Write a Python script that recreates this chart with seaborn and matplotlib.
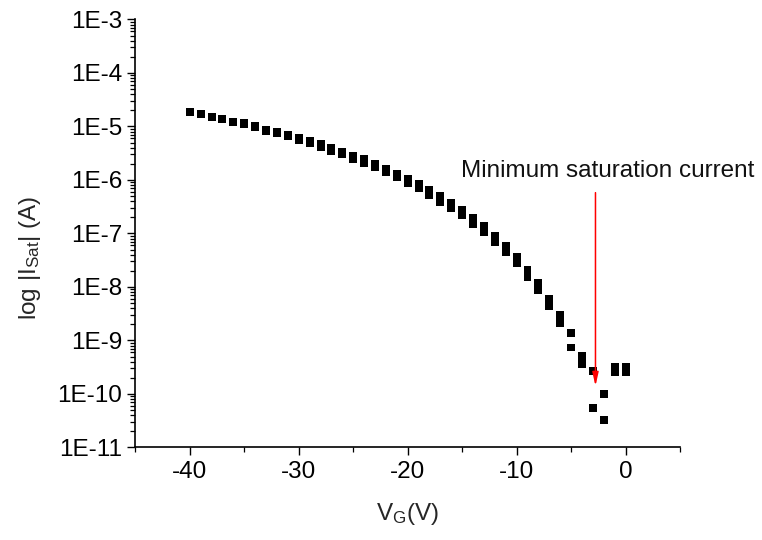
import numpy as np
import pandas as pd
import matplotlib
matplotlib.use("Agg")
import matplotlib.pyplot as plt
import matplotlib.ticker as mticker
import seaborn as sns

# ---- data ----
V_G = list(range(-40, 1))  # gate voltage (V)

I_sweep1 = [1.87e-5, 1.69e-5, 1.52e-5, 1.40e-5, 1.24e-5, 1.14e-5, 1.01e-5, 8.79e-6,
            7.91e-6, 7.08e-6, 6.22e-6, 5.40e-6, 4.70e-6, 3.95e-6, 3.41e-6, 2.83e-6,
            2.42e-6, 2.00e-6, 1.64e-6, 1.32e-6, 1.05e-6, 8.51e-7, 6.49e-7, 4.92e-7,
            3.68e-7, 2.73e-7, 1.97e-7, 1.36e-7, 8.97e-8, 5.77e-8, 3.59e-8, 2.12e-8,
            1.17e-8, 5.97e-9, 3.00e-9, 1.41e-9, 5.20e-10, 2.69e-10, 1.01e-10,
            3.24e-10, 3.24e-10]

I_sweep2 = [1.87e-5, 1.69e-5, 1.52e-5, 1.37e-5, 1.22e-5, 1.09e-5, 9.70e-6, 8.41e-6,
            7.41e-6, 6.64e-6, 5.71e-6, 4.89e-6, 4.22e-6, 3.55e-6, 3.00e-6, 2.49e-6,
            2.12e-6, 1.72e-6, 1.41e-6, 1.14e-6, 8.95e-7, 7.01e-7, 5.35e-7, 3.96e-7,
            2.97e-7, 2.20e-7, 1.52e-7, 1.05e-7, 6.93e-8, 4.46e-8, 2.77e-8, 1.53e-8,
            8.67e-9, 4.42e-9, 2.09e-9, 7.40e-10, 3.59e-10, 5.55e-11, 3.27e-11,
            2.58e-10, 2.58e-10]

x_major = [-40, -30, -20, -10, 0]
y_decades = [1e-11, 1e-10, 1e-9, 1e-8, 1e-7, 1e-6, 1e-5, 1e-4, 1e-3]

annot_text = "Minimum saturation current"
annot_x = -2.76
annot_tip = 1.41e-10
annot_tail = 5.8e-7

# ---- style ----
sns.set_style("ticks")
plt.rcParams['font.family'] = ['Liberation Sans', 'DejaVu Sans']
plt.rcParams['mathtext.default'] = 'regular'
FS = 17.5

df = pd.concat([
    pd.DataFrame({"V": V_G, "I": I_sweep1, "sweep": "1"}),
    pd.DataFrame({"V": V_G, "I": I_sweep2, "sweep": "2"}),
])

fig = plt.figure(figsize=(7.62, 5.40), dpi=100)
ax = fig.add_axes([0.1776, 0.1713, 0.7148, 0.7926])

sns.scatterplot(data=df, x="V", y="I", marker="s", s=33, color="black",
                edgecolor="none", linewidth=0, legend=False, ax=ax)

ax.set_yscale("log")
ax.set_xlim(-45, 5)
ax.set_ylim(1e-11, 1e-3)

ax.xaxis.set_major_locator(mticker.FixedLocator(x_major))
ax.xaxis.set_minor_locator(mticker.FixedLocator([-45, -35, -25, -15, -5, 5]))
ax.set_xticklabels([str(v) for v in x_major])

ax.yaxis.set_major_locator(mticker.FixedLocator(y_decades))
ax.yaxis.set_minor_locator(mticker.LogLocator(base=10, subs=np.arange(2, 10), numticks=100))
ax.yaxis.set_major_formatter(mticker.FuncFormatter(lambda v, p: "1E%d" % int(round(np.log10(v)))))
ax.yaxis.set_minor_formatter(mticker.NullFormatter())

for s in ["top", "right"]:
    ax.spines[s].set_visible(False)
for s in ["left", "bottom"]:
    ax.spines[s].set_linewidth(1.2)
    ax.spines[s].set_color("black")

ax.tick_params(which="major", direction="out", length=5.8, width=1.0, labelsize=FS,
               pad=3.8, colors="black")
ax.tick_params(which="minor", direction="out", length=3.3, width=0.9, colors="black")

ax.set_xlabel("V$_G$(V)", fontsize=FS)
ax.set_ylabel("log |I$_{Sat}$| (A)", fontsize=FS)
ax.xaxis.set_label_coords(0.5, -0.125)
ax.yaxis.set_label_coords(-0.169, 0.444)

ax.text(-15.15, 1.16e-6, annot_text, fontsize=FS, ha="left", va="baseline",
        color="#111111")
ax.annotate("", xy=(annot_x, annot_tip), xytext=(annot_x, annot_tail),
            arrowprops=dict(arrowstyle="-|>,head_length=0.8,head_width=0.18",
                            color="#ff0000", lw=1.1, mutation_scale=10,
                            shrinkA=0, shrinkB=0))

fig.savefig("out.png", dpi=100)
